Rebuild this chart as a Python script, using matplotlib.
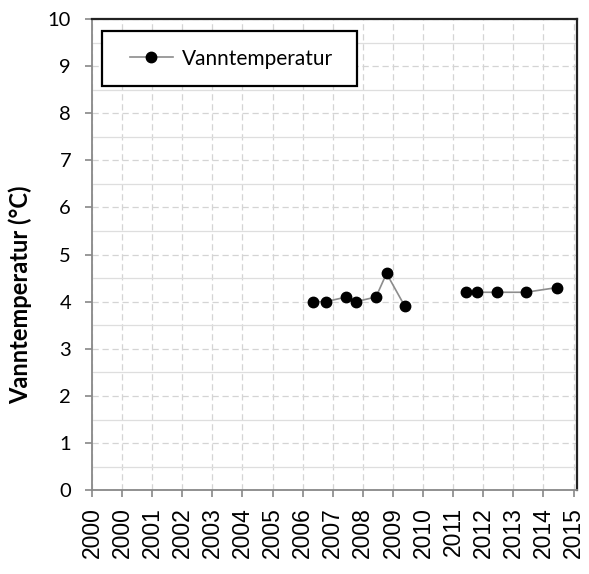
import numpy as np
from matplotlib import pyplot as plt
from matplotlib.patches import Rectangle

# sampling dates (decimal years) and water temperature; NaN marks the gap in 2011
years = [2007.33, 2007.76, 2008.45, 2008.76, 2009.43, 2009.78, 2010.39,
         np.nan,
         2012.43, 2012.78, 2013.46, 2014.40, 2015.44]
temperature = [4.0, 4.0, 4.1, 4.0, 4.1, 4.6, 3.9,
               np.nan,
               4.2, 4.2, 4.2, 4.2, 4.3]

# excel-style date axis: ticks every 365 days from 2000-01-01
tickLabels = ['2000', '2000', '2001', '2002', '2003', '2004', '2005', '2006',
              '2007', '2008', '2009', '2010', '2011', '2012', '2013', '2014', '2015']
tickPositions = [2000 + k * 365 / 365.25 for k in range(len(tickLabels))]

figure = plt.figure(figsize=(5.89, 5.74), dpi=100)
axis = figure.add_axes([0.156, 0.146, 0.824, 0.821])

axis.plot(years, temperature, color='#8c8c8c', linewidth=1.2,
          marker='o', markersize=7.5, markerfacecolor='black',
          markeredgecolor='black', label='Vanntemperatur', zorder=3)

axis.set_xlim(tickPositions[0], tickPositions[-1] + 0.12)
axis.set_ylim(0, 10)

axis.set_xticks(tickPositions)
axis.set_xticklabels(tickLabels, rotation=90, fontsize=16.5, family='Liberation Sans')
axis.set_yticks(range(0, 11))
axis.set_yticklabels([str(v) for v in range(0, 11)], fontsize=14.5, family='Lato')
axis.set_yticks(np.arange(0.5, 10, 1.0), minor=True)
axis.tick_params(axis='y', which='minor', length=0)
axis.tick_params(axis='both', which='major', direction='out', length=5,
                 width=1.2, color='#888888')
axis.tick_params(axis='x', which='major', pad=7)
axis.tick_params(axis='y', which='major', pad=10)

# grid
axis.grid(True, which='major', axis='both', color='#d4d4d4', linestyle=(0, (5, 3)), linewidth=0.9)
axis.grid(True, which='minor', axis='y', color='#dedede', linestyle='-', linewidth=0.9)
axis.set_axisbelow(True)

for side in ('left', 'bottom'):
    axis.spines[side].set_color('#888888')
    axis.spines[side].set_linewidth(1.3)
for side in ('top', 'right'):
    axis.spines[side].set_color('#222222')
    axis.spines[side].set_linewidth(1.6)

# y label sits a bit below the middle, like the original
axis.set_ylabel('Vanntemperatur (°C)', fontsize=17, fontweight='bold', family='Lato')
axis.yaxis.label.set_verticalalignment('center')
axis.yaxis.set_label_coords(-0.148, 0.415)

# legend without its own frame, boxed by a wider rectangle
legend = axis.legend(loc='center left', bbox_to_anchor=(0.078, 0.916),
                     prop={'family': 'Lato', 'size': 15},
                     frameon=False, borderpad=0, handlelength=2.07,
                     handletextpad=0.43, borderaxespad=0)
legendFrame = Rectangle((0.0206, 0.858), 0.526, 0.1165, transform=axis.transAxes,
                        facecolor='white', edgecolor='black', linewidth=1.6, zorder=4)
axis.add_patch(legendFrame)
legend.set_zorder(5)

plt.savefig('out.png', dpi=100)
